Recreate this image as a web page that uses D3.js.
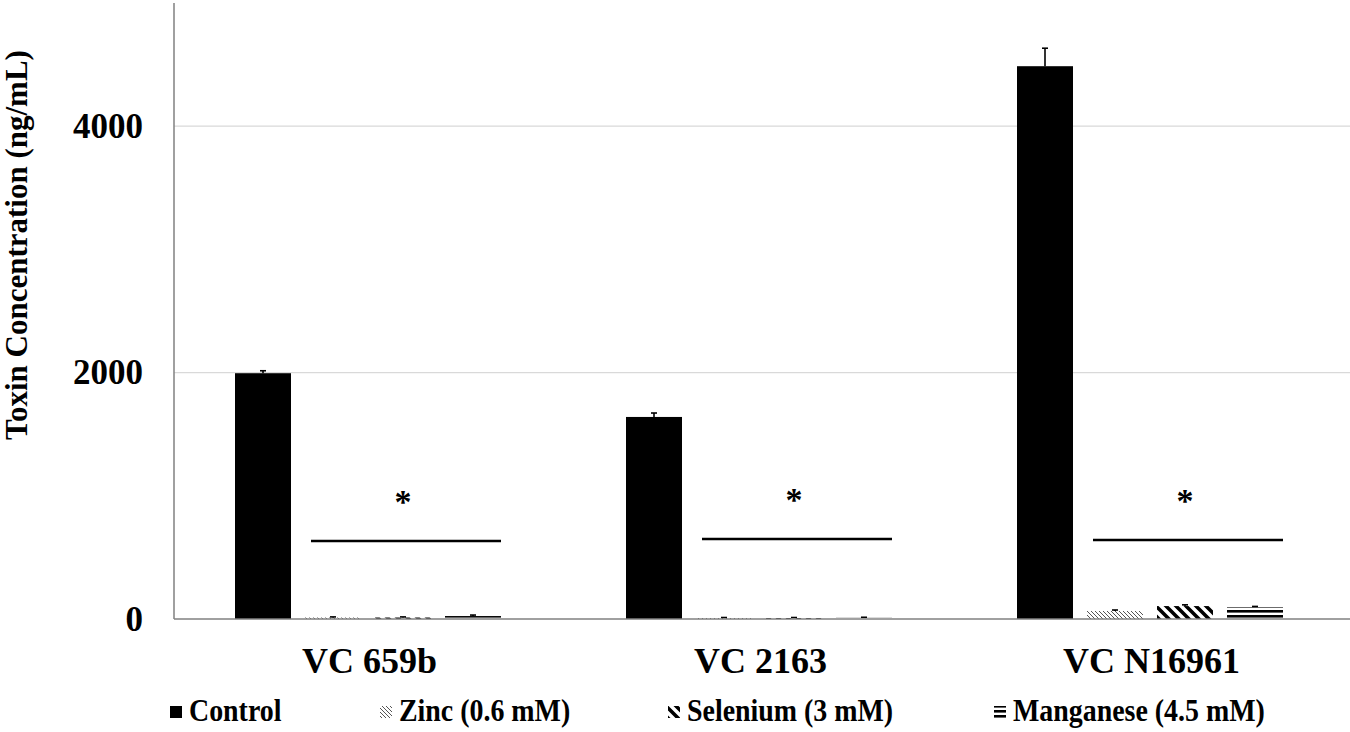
<!DOCTYPE html>
<html>
<head>
<meta charset="utf-8">
<script src="https://cdn.jsdelivr.net/npm/d3@7"></script>
<style>
  body { margin: 0; background: #fff; }
  text { font-family: "Liberation Serif", "Times New Roman", serif; font-weight: bold; }
</style>
</head>
<body>
<div id="chart"></div>
<script>
// --- Data ---
const categories = ["VC 659b", "VC 2163", "VC N16961"];
const seriesNames = ["Control", "Zinc (0.6 mM)", "Selenium (3 mM)", "Manganese (4.5 mM)"];
const controlValues = [1995, 1640, 4487];
const controlErr = [20, 32, 146];
const zincValues = [12, 8, 65];
const zincErr = [5, 4, 8];
const seleniumValues = [12, 8, 105];
const seleniumErr = [5, 4, 10];
const manganeseValues = [24, 10, 97];
const manganeseErr = [8, 4, 5];
const sigLineValues = [633, 649, 641];
const yTicks = [0, 2000, 4000];
const gridTicks = [2000, 4000];

function createPlot() {
  const W = 1350, H = 732;
  const svg = d3.select("#chart").append("svg")
      .attr("width", W)
      .attr("height", H);

  // --- Patterns ---
  const defs = svg.append("defs");
  const zinc = defs.append("pattern").attr("id", "pat-zinc")
      .attr("patternUnits", "userSpaceOnUse").attr("width", 4).attr("height", 4);
  zinc.append("path").attr("d", "M-1,-1 l6,6 M-1,3 l2,2 M3,-1 l2,2")
      .style("stroke", "#555").style("stroke-width", 1);

  const sel = defs.append("pattern").attr("id", "pat-sel")
      .attr("patternUnits", "userSpaceOnUse").attr("width", 10).attr("height", 10);
  sel.append("path").attr("d", "M-2.5,-2.5 l15,15 M-2.5,7.5 l5,5 M7.5,-2.5 l5,5")
      .style("stroke", "#000").style("stroke-width", 3.6);

  const mn = defs.append("pattern").attr("id", "pat-mn")
      .attr("patternUnits", "userSpaceOnUse").attr("width", 5).attr("height", 5);
  mn.append("rect").attr("x", 0).attr("y", 0).attr("width", 5).attr("height", 2.6).style("fill", "#000");

  const fills = ["#000", "url(#pat-zinc)", "url(#pat-sel)", "url(#pat-mn)"];

  // --- Scales ---
  const x0 = d3.scaleBand().domain(categories).range([174, 1347]);
  const x1 = d3.scaleBand().domain(seriesNames).range([61, 327]).paddingInner(0.2);
  const y = d3.scaleLinear().domain([0, 5000]).range([619, 3]);

  // --- Gridlines ---
  svg.append("g").selectAll("line").data(gridTicks).join("line")
      .attr("x1", 174).attr("x2", W)
      .attr("y1", d => y(d)).attr("y2", d => y(d))
      .style("stroke", "#d9d9d9").style("stroke-width", 1.3);

  // --- Bars ---
  const valuesBySeries = [controlValues, zincValues, seleniumValues, manganeseValues];
  const errBySeries = [controlErr, zincErr, seleniumErr, manganeseErr];
  const rows = [];
  categories.forEach((c, i) => {
    seriesNames.forEach((s, j) => {
      rows.push({ cat: c, series: s, j: j, value: valuesBySeries[j][i], err: errBySeries[j][i] });
    });
  });

  svg.append("g").selectAll("rect").data(rows).join("rect")
      .attr("x", d => x0(d.cat) + x1(d.series))
      .attr("y", d => y(d.value))
      .attr("width", x1.bandwidth())
      .attr("height", d => y(0) - y(d.value))
      .style("fill", d => fills[d.j]);

  // --- Error bars (plus only) ---
  const eb = svg.append("g").style("stroke", "#000").style("stroke-width", 1.6);
  eb.selectAll(".v").data(rows).join("line").attr("class", "v")
      .attr("x1", d => x0(d.cat) + x1(d.series) + x1.bandwidth() / 2)
      .attr("x2", d => x0(d.cat) + x1(d.series) + x1.bandwidth() / 2)
      .attr("y1", d => y(d.value))
      .attr("y2", d => y(d.value + d.err));
  eb.selectAll(".c").data(rows).join("line").attr("class", "c")
      .attr("x1", d => x0(d.cat) + x1(d.series) + x1.bandwidth() / 2 - 3)
      .attr("x2", d => x0(d.cat) + x1(d.series) + x1.bandwidth() / 2 + 3)
      .attr("y1", d => y(d.value + d.err))
      .attr("y2", d => y(d.value + d.err));

  // --- Axes ---
  const yAxis = svg.append("g")
      .attr("transform", "translate(174,0)")
      .call(d3.axisLeft(y).tickValues(yTicks).tickSize(0).tickPadding(31).tickFormat(d3.format("d")));
  yAxis.select(".domain").remove();
  yAxis.selectAll("text")
      .style("font-family", '"Liberation Serif", serif')
      .style("font-weight", "bold")
      .style("font-size", "35px")
      .attr("fill", "#000");

  svg.append("line")
      .attr("x1", 174).attr("x2", 174)
      .attr("y1", y(5000)).attr("y2", y(0))
      .style("stroke", "#808080").style("stroke-width", 1.5);
  svg.append("line")
      .attr("x1", 174).attr("x2", W)
      .attr("y1", y(0)).attr("y2", y(0))
      .style("stroke", "#808080").style("stroke-width", 1.5);

  // category labels
  svg.append("g").selectAll("text").data(categories).join("text")
      .attr("x", 0).attr("y", 0)
      .attr("transform", d => `translate(${x0(d) + x0.bandwidth() / 2},673)`)
      .attr("text-anchor", "middle")
      .style("font-size", "36px")
      .text(d => d);

  // --- Significance lines and stars ---
  const sig = svg.append("g");
  sig.selectAll("line").data(categories).join("line")
      .attr("x1", d => x0(d) + x1(seriesNames[1]) + 6)
      .attr("x2", d => x0(d) + x1(seriesNames[3]) + x1.bandwidth())
      .attr("y1", (d, i) => y(sigLineValues[i]))
      .attr("y2", (d, i) => y(sigLineValues[i]))
      .style("stroke", "#000").style("stroke-width", 2.5);
  sig.selectAll("text").data(categories).join("text")
      .attr("x", d => x0(d) + x1(seriesNames[2]) + x1.bandwidth() / 2)
      .attr("y", (d, i) => y(sigLineValues[i]) - 28)
      .style("text-anchor", "middle")
      .style("font-size", "34px")
      .text("*");

  // --- Y title ---
  svg.append("text")
      .attr("transform", "translate(27,245) rotate(-90)")
      .style("text-anchor", "middle")
      .style("font-size", "31px")
      .text("Toxin Concentration (ng/mL)");

  // --- Legend ---
  const legendX = [170, 380, 668, 994];
  const lg = svg.append("g");
  seriesNames.forEach((s, j) => {
    lg.append("rect")
        .attr("x", legendX[j]).attr("y", 706)
        .attr("width", 12).attr("height", 12)
        .style("fill", fills[j]);
    lg.append("text")
        .attr("transform", `translate(${legendX[j] + 19},721) scale(0.9,1)`)
        .style("font-size", "31px")
        .text(s);
  });
}

document.addEventListener('DOMContentLoaded', () => {
  createPlot();
});
</script>
</body>
</html>
